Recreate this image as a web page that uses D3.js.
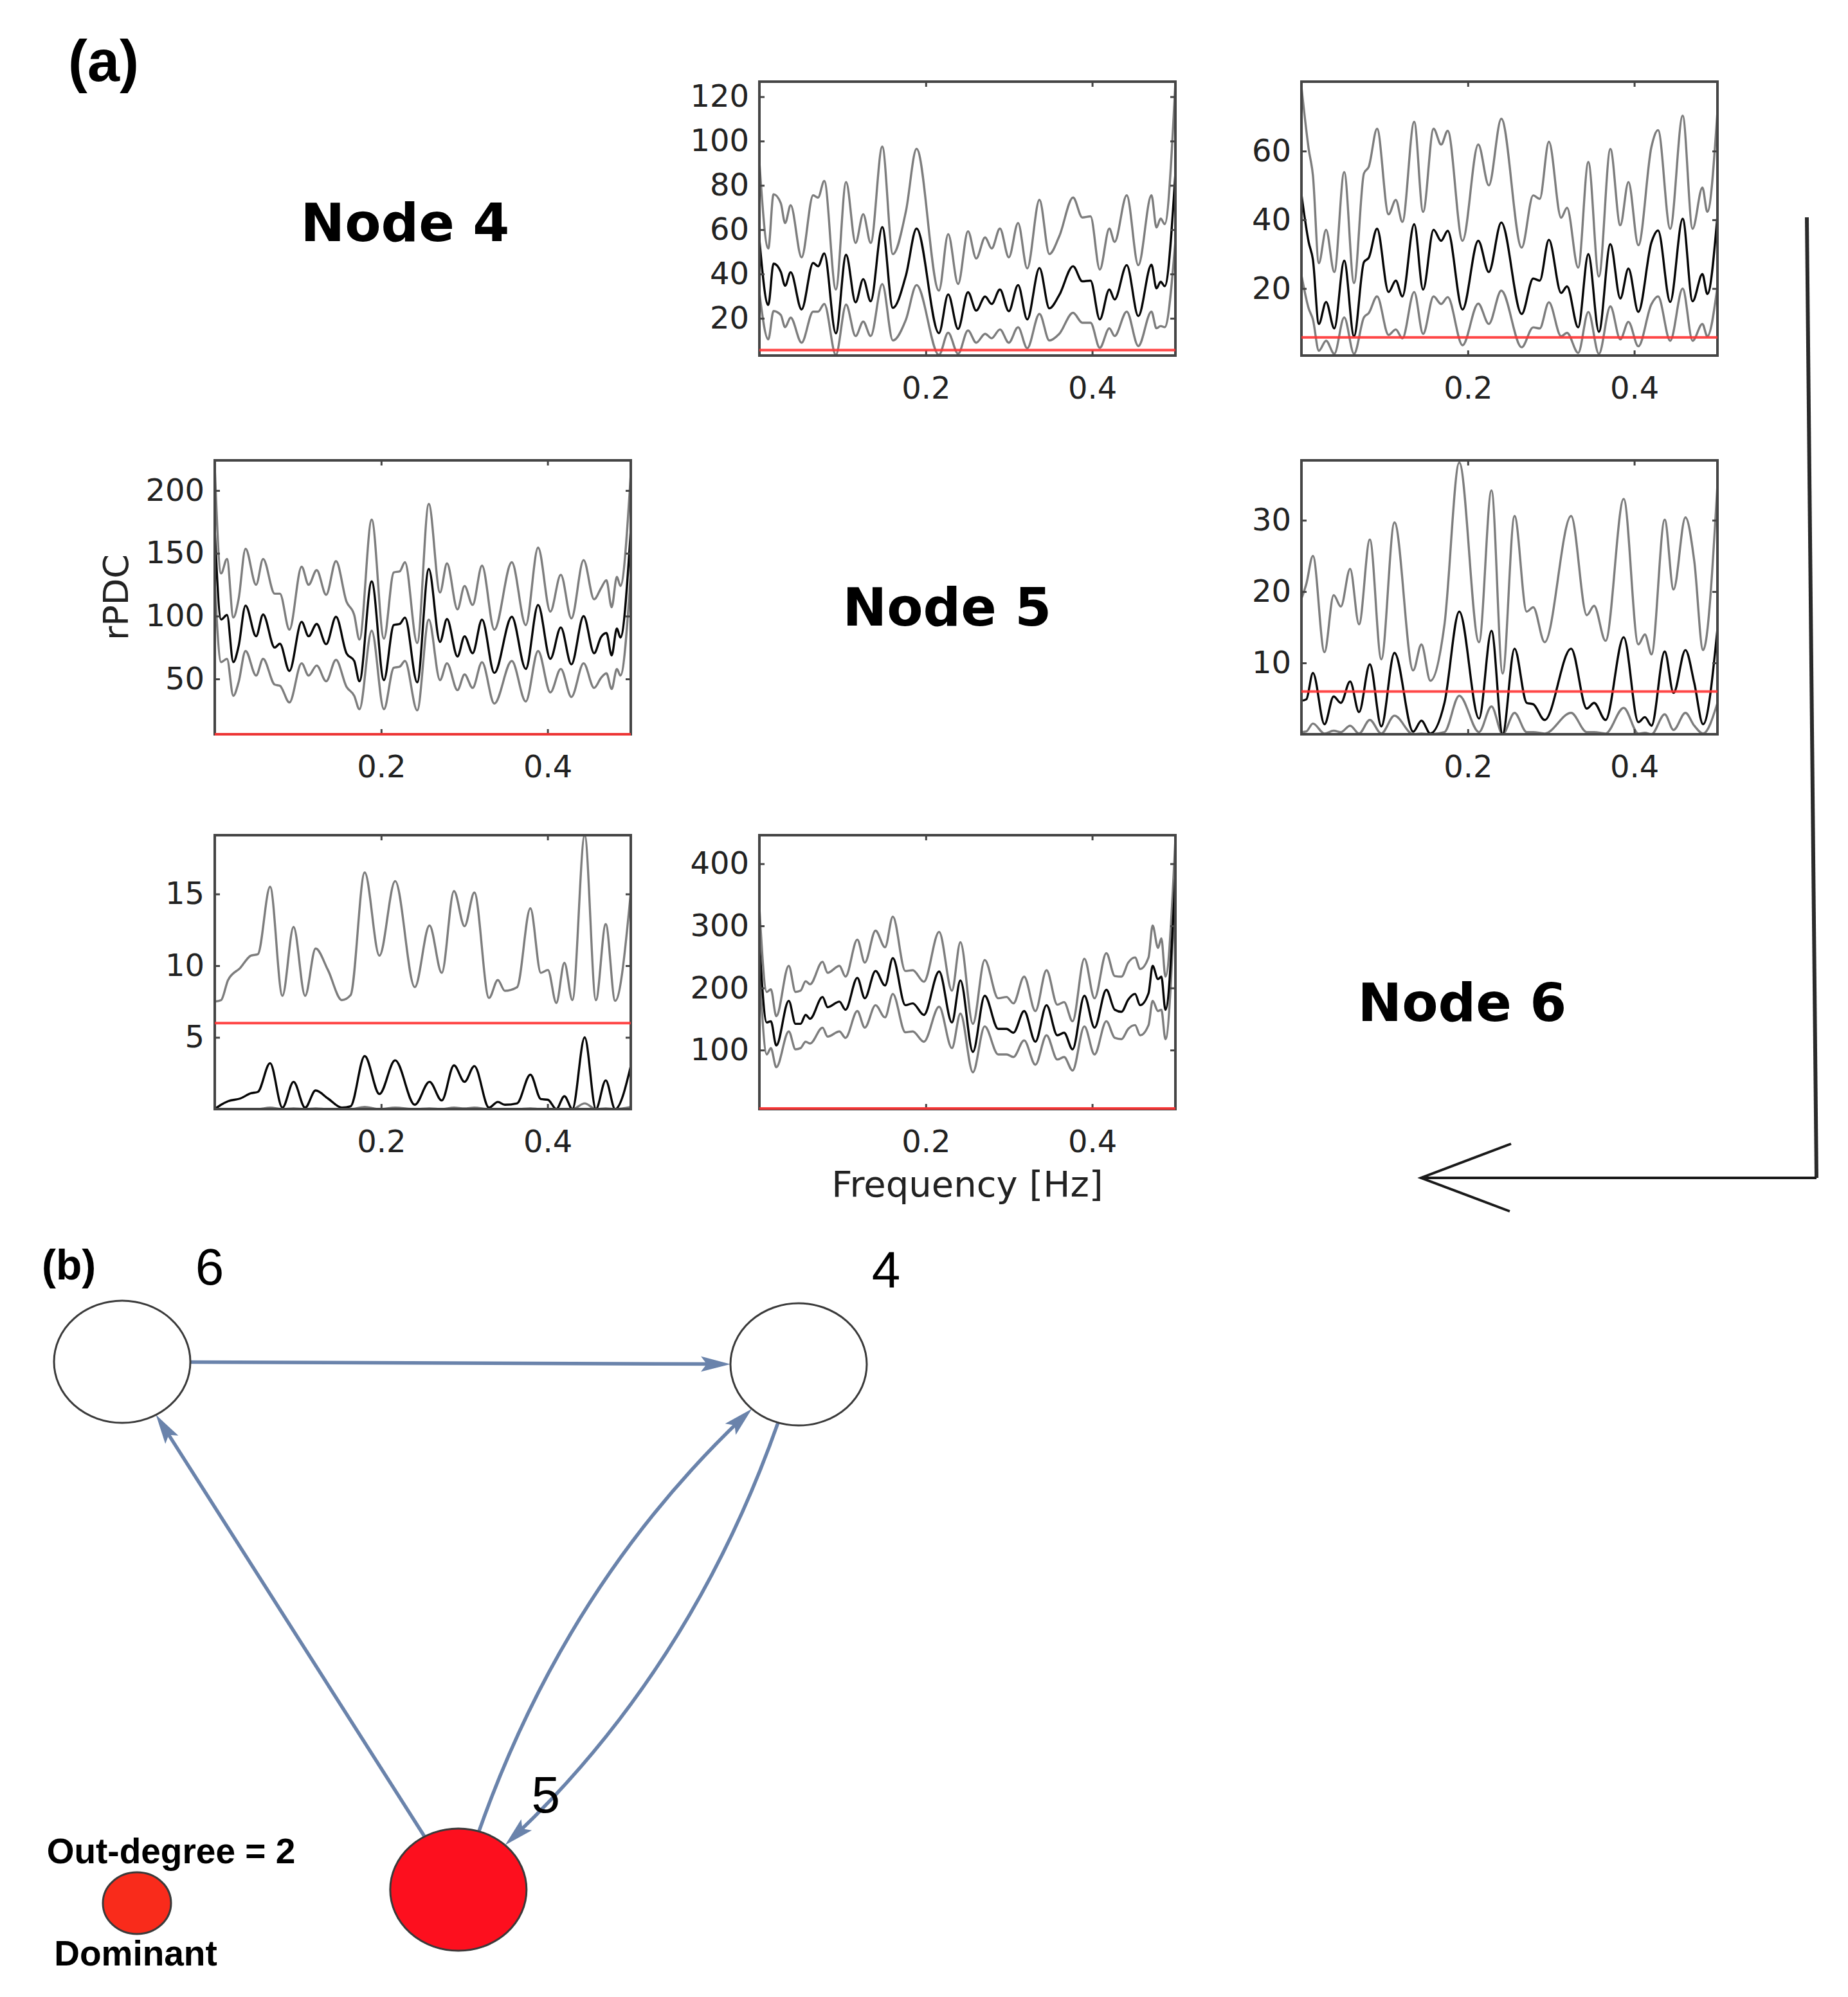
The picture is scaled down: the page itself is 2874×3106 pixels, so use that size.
<!doctype html>
<html lang="en">
<head>
    <meta charset="UTF-8">
    <title>rPDC between nodes 4, 5 and 6</title>
    <style>
        html, body { margin: 0; padding: 0; background: #fff; }
        svg { display: block; }
    </style>
</head>
<body>
<div class="container"></div>

<script src="https://d3js.org/d3.v7.min.js"></script>

<script>
  const SVG_WIDTH = 2874;
  const SVG_HEIGHT = 3106;

  // ---------- data ----------
  const freqTicks = [0.2, 0.4];

  // row 1, col 2
  const p12Freq = [0, 0.0107, 0.0170, 0.0257, 0.0309, 0.0376, 0.0507, 0.0646, 0.0705, 0.0780,
    0.0919, 0.1042, 0.1156, 0.1248, 0.1338, 0.1477, 0.1604, 0.1762, 0.1889, 0.2158,
    0.2269, 0.2388, 0.2507, 0.2606, 0.2713, 0.2792, 0.2891, 0.2998, 0.3109, 0.3219,
    0.3366, 0.3485, 0.3604, 0.3770, 0.3881, 0.3980, 0.4091, 0.4206, 0.4269, 0.4415,
    0.4554, 0.4712, 0.4772, 0.4823, 0.4871, 0.5];
  const p12Mean = [55.5, 26, 44.7, 41, 34.7, 40.8, 24, 45, 43.5, 49.3,
    13.2, 48.7, 27.2, 37.7, 27.7, 61.2, 24.7, 39.5, 60.5, 13.3,
    30.8, 15.2, 31.8, 23.5, 29.8, 26.5, 33, 23.2, 35, 19.5,
    42.7, 24.5, 30.5, 43.5, 36.7, 37, 19.5, 33, 28.5, 44,
    21, 44.2, 33.5, 36.5, 34.5, 85.7];
  const p12Upper = [90.5, 51.5, 76, 72, 63, 71, 47.5, 75.5, 74.5, 82,
    33, 81.5, 54, 67, 54, 97.5, 49, 68.5, 96.5, 32.5,
    58, 35.5, 59.3, 47, 56.5, 51.5, 60.5, 47.5, 63, 42.5,
    73.5, 49, 57, 74.5, 65.5, 66, 42, 60.5, 54.5, 75.5,
    44, 75.5, 61, 65, 62.5, 126.5];
  const p12Lower = [31.5, 10.5, 23.3, 21.5, 16, 20.3, 9, 23, 23, 26.5,
    3.5, 26.2, 12, 18.5, 12, 35.5, 10, 19.5, 35, 3.5,
    13.5, 4, 14.5, 9, 13, 11, 15, 9, 16, 6.5,
    22, 10, 13, 22.5, 18, 18, 6.7, 15.5, 12, 23,
    7.5, 23, 15.5, 16.5, 16, 55];
  const p12Ticks = [20, 40, 60, 80, 100, 120];

  // row 1, col 3
  const p13Freq = [0, 0.0087, 0.0138, 0.0209, 0.0296, 0.0395, 0.0514, 0.0632, 0.0751, 0.0810,
    0.0909, 0.1047, 0.1134, 0.1213, 0.1355, 0.1462, 0.1588, 0.1679, 0.1758, 0.1936,
    0.2125, 0.2252, 0.2402, 0.2647, 0.2785, 0.2864, 0.2974, 0.3121, 0.3192, 0.3326,
    0.3448, 0.3575, 0.3713, 0.3832, 0.3930, 0.4049, 0.4207, 0.4286, 0.4432, 0.4582,
    0.4701, 0.4819, 0.4878, 0.5];
  const p13Mean = [47.4, 33.5, 28.4, 9.7, 16.1, 8.4, 28.1, 6.1, 27.7, 29,
    37.4, 19, 22.3, 17.7, 38.7, 19.7, 37.1, 33.9, 36.8, 13.9,
    33.9, 24.8, 39.2, 12.6, 22.9, 22.3, 34.2, 18.7, 20.6, 8.7,
    30, 7.4, 32.9, 17.1, 25.8, 13.2, 33.5, 36.9, 16.1, 40.3,
    16.3, 24.2, 18.4, 41.3];
  const p13Upper = [78.7, 60.6, 52.9, 27.4, 37.1, 24.8, 53.9, 21.6, 53.5, 55.5,
    66.5, 41.6, 45.8, 39.4, 68.5, 42.3, 66.5, 61.9, 65.9, 33.9,
    61.9, 50, 69.4, 31.9, 47.1, 46.1, 62.7, 40.6, 43.5, 26.1,
    56.8, 23.5, 60.6, 38.4, 51, 32.6, 61.3, 66.1, 37.4, 70.3,
    37.4, 49.4, 42.3, 71.6];
  const p13Lower = [23.9, 14.2, 11, 1.9, 4.8, 1, 11.6, 1, 11.6, 12.9,
    17.7, 6.5, 8.1, 5.5, 19, 6.8, 17.7, 15.5, 17.5, 3.5,
    15.6, 9.7, 19.4, 2.9, 8.7, 8.4, 16, 6.1, 7.1, 1.3,
    13.2, 1, 14.8, 5.2, 10.3, 3.2, 15.5, 17.7, 4.8, 20,
    4.8, 9.7, 6.1, 20.6];
  const p13Ticks = [20, 40, 60];

  // row 2, col 1
  const p21Freq = [0, 0.0076, 0.0147, 0.0223, 0.0286, 0.0370, 0.0497, 0.0581, 0.0720, 0.0783,
    0.0897, 0.1044, 0.1128, 0.1225, 0.1339, 0.1457, 0.1583, 0.1676, 0.1739, 0.1886,
    0.2033, 0.2151, 0.2223, 0.2286, 0.2433, 0.2572, 0.2707, 0.2791, 0.2917, 0.3002,
    0.3099, 0.3212, 0.3360, 0.3570, 0.3738, 0.3886, 0.4033, 0.4159, 0.4286, 0.4433,
    0.4559, 0.4643, 0.4707, 0.4770, 0.4833, 0.4875, 0.5];
  const p21Mean = [169, 97.3, 100.9, 63.4, 75.9, 108.4, 84, 101.3, 75, 78,
    56.3, 95.5, 84, 93.8, 77.7, 99.5, 70.5, 64.3, 48.2, 127.7,
    49.1, 92.9, 93.8, 98.8, 47.3, 137.5, 79.5, 97.7, 67.9, 84,
    70.5, 97.3, 54.8, 99.5, 58, 108.9, 66, 91, 61.6, 100,
    70.5, 83.4, 86.6, 68.8, 90.2, 83, 168.8];
  const p21Upper = [218.8, 134, 145.5, 99, 113.4, 153.6, 125, 145.5, 117.9, 117.9,
    89.3, 139.3, 125, 136.6, 117, 143.8, 111.6, 100.9, 81.3, 176.8,
    82.1, 134.8, 135.7, 142.9, 78.6, 189.3, 118.8, 142, 105.4, 124,
    108.9, 140.2, 89.3, 142.9, 92.9, 154.5, 103.6, 133, 98.2, 144.6,
    113.4, 122.3, 128.6, 107.1, 131.3, 124.1, 213.4];
  const p21Lower = [126, 63.4, 66, 36.6, 47.3, 72.3, 52.7, 66, 45.5, 44.6,
    31.3, 62.5, 52.7, 60.7, 48.2, 65.2, 43.8, 36.6, 25.9, 88.4,
    25.9, 58.9, 59.8, 64.3, 25, 97.3, 49.1, 62.5, 41.1, 53.6,
    42.9, 63.4, 30.4, 64.3, 32.1, 72.3, 39.3, 58, 35.7, 62.5,
    42.9, 50.9, 54.5, 42, 58, 52.7, 133];
  const p21Ticks = [50, 100, 150, 200];

  // row 2, col 3
  const p23Freq = [0, 0.0059, 0.0138, 0.0277, 0.0387, 0.0474, 0.0585, 0.0692, 0.0822, 0.0960,
    0.1118, 0.1343, 0.1442, 0.1549, 0.1719, 0.1897, 0.2134, 0.2284, 0.2418, 0.2561,
    0.2707, 0.2786, 0.2923, 0.3241, 0.3430, 0.3517, 0.3655, 0.3873, 0.4049, 0.4128,
    0.4207, 0.4366, 0.4472, 0.4615, 0.4721, 0.4827, 0.5];
  const p23Mean = [4.7, 4.9, 8.6, 1.4, 5.3, 4.4, 7.4, 3.1, 9.8, 1.1,
    11.4, 0.35, 1.9, 0.1, 4.4, 17.2, 2.2, 14.5, 0, 12,
    4.4, 4.2, 2, 12, 3.6, 4.4, 2, 13.6, 1.7, 2.4,
    1.2, 11.6, 5.8, 11.8, 7.2, 1.4, 14.8];
  const p23Upper = [19, 21.1, 25, 11.5, 19.5, 17.9, 23.2, 15.4, 27.3, 10.5,
    29.7, 8.95, 12.6, 7.5, 15.4, 38.1, 12.9, 34.2, 8.5, 30.6,
    17.2, 17.8, 12.9, 30.6, 16.7, 18, 13.1, 33, 12.6, 14,
    11.2, 30.1, 20.3, 30.4, 24.3, 11.8, 35];
  const p23Lower = [0.3, 0.4, 1.5, 0.1, 0.5, 0.3, 1.2, 0.1, 2, 0.1,
    2.6, 0, 0.1, 0, 0.3, 5.4, 0.3, 3.9, 0, 3,
    0.3, 0.3, 0.1, 3, 0.3, 0.3, 0.1, 3.7, 0.1, 0.2,
    0, 2.8, 0.6, 3, 1.2, 0.1, 4.4];
  const p23Ticks = [10, 20, 30];

  // row 3, col 1
  const p31Freq = [0, 0.0076, 0.0160, 0.0307, 0.0434, 0.0518, 0.0665, 0.0813, 0.0947, 0.1086,
    0.1212, 0.1360, 0.1528, 0.1633, 0.1802, 0.1979, 0.2168, 0.2404, 0.2581, 0.2728,
    0.2875, 0.3002, 0.3120, 0.3296, 0.3402, 0.3486, 0.3633, 0.3793, 0.3919, 0.4004,
    0.4105, 0.4202, 0.4298, 0.4446, 0.4581, 0.4699, 0.4812, 0.5];
  const p31Mean = [0, 0.3, 0.55, 0.74, 1.1, 1.2, 3.2, 0.1, 1.9, 0.1,
    1.3, 0.74, 0.1, 0.2, 3.7, 1.05, 3.4, 0.3, 1.9, 0.6,
    3.05, 1.9, 3.0, 0.1, 0.5, 0.3, 0.4, 2.4, 0.7, 0.65,
    0, 0.9, 0, 5.0, 0, 2.0, 0, 3.0];
  const p31Upper = [7.5, 7.6, 9.0, 9.85, 10.7, 10.8, 15.5, 7.9, 12.7, 7.9,
    11.2, 9.7, 7.6, 7.95, 16.5, 10.7, 15.9, 8.5, 12.8, 9.5,
    15.2, 12.75, 15.1, 7.75, 9.0, 8.25, 8.5, 14, 9.5, 9.7,
    7.4, 10.2, 7.6, 19.1, 7.6, 12.9, 7.55, 15.1];
  const p31Lower = [0, 0, 0, 0, 0, 0, 0.1, 0, 0.05, 0,
    0.05, 0, 0, 0, 0.15, 0, 0.1, 0, 0.05, 0,
    0.1, 0.05, 0.1, 0, 0, 0, 0, 0.05, 0, 0,
    0, 0, 0, 0.4, 0, 0.05, 0, 0.15];
  const p31Ticks = [5, 10, 15];

  // row 3, col 2
  const p32Freq = [0, 0.0089, 0.0138, 0.0203, 0.0353, 0.0434, 0.0495, 0.0556, 0.0609, 0.0759,
    0.0820, 0.0962, 0.1035, 0.1177, 0.1267, 0.1396, 0.1510, 0.1604, 0.1754, 0.1843,
    0.1977, 0.2160, 0.2314, 0.2416, 0.2566, 0.2708, 0.2870, 0.2971, 0.3053, 0.3182,
    0.3317, 0.3451, 0.3581, 0.3662, 0.3764, 0.3906, 0.4028, 0.4170, 0.4271, 0.4352,
    0.4433, 0.4515, 0.4576, 0.4677, 0.4726, 0.4791, 0.4831, 0.4880, 0.5];
  const p32Mean = [271.8, 144.4, 146.4, 107.4, 179.3, 142.3, 142.3, 156.7, 150.5, 185.5,
    169, 178, 164.9, 216.3, 183.4, 227.4, 204, 248, 172.3, 175.2,
    156.7, 226.6, 144.4, 212.2, 97.1, 187.5, 134.1, 134.1, 128, 162.8,
    113.5, 172.3, 123.8, 128, 101.2, 187.5, 136.1, 197, 164.9, 161.6,
    181.3, 190.4, 172.3, 191.6, 235.6, 214.2, 218.3, 164.9, 382.7];
  const p32Upper = [329.3, 193.7, 197.8, 154.6, 235.6, 193.7, 195.7, 210.9, 206, 242.2,
    224.5, 235.6, 218.3, 277.9, 240.9, 292.3, 265.6, 314.9, 227.4, 228.6,
    210.1, 290.3, 195.7, 273.8, 142.3, 245, 183.4, 185.5, 175.2, 218.3,
    162.8, 228.6, 173.1, 177.2, 146.4, 247.1, 183.4, 256.1, 219.2, 218.3,
    240.9, 249.2, 230.7, 249.2, 300.5, 264.4, 280, 218.3, 440];
  const p32Lower = [230, 93, 103.2, 72.4, 130, 101.2, 103.2, 113.5, 110.6, 136.1,
    121.7, 130, 119.7, 162.8, 136.1, 172.3, 152.6, 190.4, 128.7, 130,
    113.5, 169.8, 103.2, 158.7, 64.2, 138.2, 93, 93, 88.9, 115.6,
    76.5, 123.8, 84.8, 88.9, 67.1, 138.2, 93, 146.4, 119.7, 117.6,
    134.1, 140.2, 123.8, 140.2, 179.3, 162.8, 164.9, 117.6, 366.3];
  const p32Ticks = [100, 200, 300, 400];

  // network (b)
  const nodeIds = ['6', '4', '5'];
  const nodeLayoutX = [0, 1, 0.497];
  const nodeLayoutY = [0, 0.005, 1];
  const nodeDominant = [false, false, true];
  const edgeFrom = ['6', '5', '5', '4'];
  const edgeTo = ['4', '6', '4', '5'];
  const edgeBend = [0, 0, 0.12, 0.12];

  // ---------- layout ----------
  const COL_X = [334, 1181, 2024];
  const ROW_Y = [127, 716, 1299];
  const PW = 647;
  const PH = 426;
  const TICK = 8;
  const AXIS_COLOUR = '#454545';
  const TEXT_COLOUR = '#222';
  const MATLAB_FONT = "'DejaVu Sans', sans-serif";
  const GRAPH_FONT = "'Liberation Sans', Arial, sans-serif";

  const panels = [
    {id: 'p12', row: 0, col: 1, freq: p12Freq, mean: p12Mean, upper: p12Upper, lower: p12Lower, ticks: p12Ticks, yDomain: [3.2, 126.8], threshold: 5.7},
    {id: 'p13', row: 0, col: 2, freq: p13Freq, mean: p13Mean, upper: p13Upper, lower: p13Lower, ticks: p13Ticks, yDomain: [0.5, 80.2], threshold: 5.8},
    {id: 'p21', row: 1, col: 0, freq: p21Freq, mean: p21Mean, upper: p21Upper, lower: p21Lower, ticks: p21Ticks, yDomain: [6, 224], threshold: 6},
    {id: 'p23', row: 1, col: 2, freq: p23Freq, mean: p23Mean, upper: p23Upper, lower: p23Lower, ticks: p23Ticks, yDomain: [0, 38.4], threshold: 6},
    {id: 'p31', row: 2, col: 0, freq: p31Freq, mean: p31Mean, upper: p31Upper, lower: p31Lower, ticks: p31Ticks, yDomain: [0, 19.1], threshold: 6},
    {id: 'p32', row: 2, col: 1, freq: p32Freq, mean: p32Mean, upper: p32Upper, lower: p32Lower, ticks: p32Ticks, yDomain: [5, 446], threshold: 6}
  ];

  const svg = d3.select('.container')
    .append('svg')
    .attr('width', SVG_WIDTH)
    .attr('height', SVG_HEIGHT)
    .attr('viewBox', `0 0 ${SVG_WIDTH} ${SVG_HEIGHT}`);

  svg.append('rect').attr('width', SVG_WIDTH).attr('height', SVG_HEIGHT).attr('fill', '#fff');
  const defs = svg.append('defs');

  function styleAxis(sel) {
    sel.select('.domain').remove();
    sel.attr('font-family', MATLAB_FONT).attr('font-size', 48);
    sel.selectAll('.tick line').attr('stroke', AXIS_COLOUR).attr('stroke-width', 3);
    sel.selectAll('.tick text').attr('fill', TEXT_COLOUR);
  }

  function drawPanel(p) {
    const g = svg.append('g')
      .attr('transform', `translate(${COL_X[p.col]}, ${ROW_Y[p.row]})`);

    const x = d3.scaleLinear().domain([0, 0.5]).range([0, PW]);
    const y = d3.scaleLinear().domain(p.yDomain).range([PH, 0]);

    defs.append('clipPath').attr('id', `clip-${p.id}`)
      .append('rect').attr('width', PW).attr('height', PH);

    const plot = g.append('g').attr('clip-path', `url(#clip-${p.id})`);
    const line = d3.line()
      .defined((d, i) => p.freq[i] !== undefined)
      .x((d, i) => x(p.freq[i]))
      .y(d => y(d))
      .curve(d3.curveMonotoneX);

    [[p.upper, '#7d7d7d'], [p.lower, '#7d7d7d'], [p.mean, '#050505']].forEach(([vals, colour]) => {
      plot.append('path')
        .datum(vals)
        .attr('fill', 'none')
        .attr('stroke', colour)
        .attr('stroke-width', 3.4)
        .attr('stroke-linejoin', 'round')
        .attr('d', line);
    });

    g.append('g')
      .call(d3.axisLeft(y).tickValues(p.ticks).tickSize(-TICK).tickPadding(16))
      .call(styleAxis);
    g.append('g')
      .attr('transform', `translate(${PW}, 0)`)
      .call(d3.axisRight(y).tickValues(p.ticks).tickSize(-TICK).tickFormat(''))
      .call(styleAxis);
    g.append('g')
      .attr('transform', `translate(0, ${PH})`)
      .call(d3.axisBottom(x).tickValues(freqTicks).tickSize(-TICK).tickPadding(33).tickFormat(d3.format('.1f')))
      .call(styleAxis);
    g.append('g')
      .call(d3.axisTop(x).tickValues(freqTicks).tickSize(-TICK).tickFormat(''))
      .call(styleAxis);

    g.append('rect')
      .attr('width', PW)
      .attr('height', PH)
      .attr('fill', 'none')
      .attr('stroke', AXIS_COLOUR)
      .attr('stroke-width', 4);

    // significance threshold
    g.append('line')
      .attr('x1', 0).attr('x2', PW)
      .attr('y1', y(p.threshold)).attr('y2', y(p.threshold))
      .attr('stroke', '#ff3333')
      .attr('stroke-opacity', 0.9)
      .attr('stroke-width', 4);
  }

  panels.forEach(drawPanel);

  // panel (a) texts
  svg.append('text')
    .attr('x', 106).attr('y', 126)
    .attr('font-family', GRAPH_FONT).attr('font-weight', 'bold').attr('font-size', 90)
    .text('(a)');

  const nodeTitles = [
    {label: 'Node 4', x: 630, y: 375},
    {label: 'Node 5', x: 1473, y: 973},
    {label: 'Node 6', x: 2274, y: 1588}
  ];
  svg.selectAll('.node-title')
    .data(nodeTitles)
    .enter().append('text')
    .attr('class', 'node-title')
    .attr('x', d => d.x).attr('y', d => d.y)
    .attr('text-anchor', 'middle')
    .attr('font-family', MATLAB_FONT).attr('font-weight', 'bold').attr('font-size', 82)
    .attr('fill', '#000')
    .text(d => d.label);

  svg.append('text')
    .attr('transform', `translate(${COL_X[0] - 135}, ${ROW_Y[1] + PH / 2}) rotate(-90)`)
    .attr('text-anchor', 'middle')
    .attr('font-family', MATLAB_FONT).attr('font-size', 54)
    .attr('fill', TEXT_COLOUR)
    .text('rPDC');

  svg.append('text')
    .attr('x', COL_X[1] + PW / 2).attr('y', ROW_Y[2] + PH + 136)
    .attr('text-anchor', 'middle')
    .attr('font-family', MATLAB_FONT).attr('font-size', 56)
    .attr('fill', TEXT_COLOUR)
    .text('Frequency [Hz]');

  // hand-drawn return arrow on the right
  const arrowTop = ROW_Y[0] + 211;
  const arrowY = ROW_Y[2] + PH + 107;
  const arrowX = COL_X[2] + PW + 148;
  const arrowTipX = 2210;
  svg.append('path')
    .attr('d', `M${arrowX - 9},${arrowTop} L${arrowX + 6},${arrowY}`)
    .attr('stroke', '#2a2a2a').attr('stroke-width', 6).attr('fill', 'none');
  svg.append('path')
    .attr('d', `M${arrowX + 6},${arrowY} L${arrowTipX},${arrowY} M${arrowTipX + 140},${arrowY - 53} L${arrowTipX},${arrowY} L${arrowTipX + 138},${arrowY + 52}`)
    .attr('stroke', '#1a1a1a').attr('stroke-width', 4).attr('fill', 'none');

  // ---------- panel (b): network ----------
  const NODE_RX = 106;
  const NODE_RY = 95;
  const EDGE_COLOUR = '#6a83ab';
  const netX = d3.scaleLinear().domain([0, 1]).range([190, 1242]);
  const netY = d3.scaleLinear().domain([0, 1]).range([2118, 2939]);

  const nodes = nodeIds.map((id, i) => ({
    id, cx: netX(nodeLayoutX[i]), cy: netY(nodeLayoutY[i]), dominant: nodeDominant[i]
  }));
  const nodeById = new Map(nodes.map(n => [n.id, n]));

  defs.append('marker')
    .attr('id', 'edge-arrow')
    .attr('markerUnits', 'userSpaceOnUse')
    .attr('viewBox', '-30 -14 52 28')
    .attr('refX', 0).attr('refY', 0)
    .attr('markerWidth', 52).attr('markerHeight', 28)
    .attr('orient', 'auto')
    .append('path')
    .attr('d', 'M20,0 L-26,-12 L-17,0 L-26,12 Z')
    .attr('fill', EDGE_COLOUR);

  function boundary(n, ux, uy) {
    const s = 1 / Math.sqrt((ux / NODE_RX) ** 2 + (uy / NODE_RY) ** 2);
    return [n.cx + ux * s, n.cy + uy * s];
  }
  function unit(dx, dy) {
    const l = Math.hypot(dx, dy);
    return [dx / l, dy / l];
  }

  const TIP_BACK = 20;
  const edges = edgeFrom.map((f, i) => ({source: nodeById.get(f), target: nodeById.get(edgeTo[i]), bend: edgeBend[i]}));

  svg.append('g').selectAll('path')
    .data(edges)
    .enter().append('path')
    .attr('fill', 'none')
    .attr('stroke', EDGE_COLOUR)
    .attr('stroke-width', 5.5)
    .attr('marker-end', 'url(#edge-arrow)')
    .attr('d', e => {
      const s = e.source, t = e.target;
      const len = Math.hypot(t.cx - s.cx, t.cy - s.cy);
      const nx = (t.cy - s.cy) / len, ny = -(t.cx - s.cx) / len;
      const path = d3.path();
      if (!e.bend) {
        const [ux, uy] = unit(t.cx - s.cx, t.cy - s.cy);
        const a = boundary(s, ux, uy);
        const b = boundary(t, -ux, -uy);
        path.moveTo(a[0], a[1]);
        path.lineTo(b[0] - ux * TIP_BACK, b[1] - uy * TIP_BACK);
      } else {
        const c = [(s.cx + t.cx) / 2 + nx * e.bend * len, (s.cy + t.cy) / 2 + ny * e.bend * len];
        const [sx, sy] = unit(c[0] - s.cx, c[1] - s.cy);
        const [ex, ey] = unit(t.cx - c[0], t.cy - c[1]);
        const a = boundary(s, sx, sy);
        const b = boundary(t, -ex, -ey);
        path.moveTo(a[0], a[1]);
        path.quadraticCurveTo(c[0], c[1], b[0] - ex * TIP_BACK, b[1] - ey * TIP_BACK);
      }
      return path.toString();
    });

  const nodeG = svg.append('g').selectAll('g')
    .data(nodes)
    .enter().append('g');
  nodeG.append('ellipse')
    .attr('cx', d => d.cx).attr('cy', d => d.cy)
    .attr('rx', NODE_RX).attr('ry', NODE_RY)
    .attr('fill', d => d.dominant ? '#fd0f1e' : '#fff')
    .attr('stroke', '#3a3a3a')
    .attr('stroke-width', 3);
  nodeG.append('text')
    .attr('x', d => d.cx + 136).attr('y', d => d.cy - 120)
    .attr('text-anchor', 'middle')
    .attr('font-family', GRAPH_FONT).attr('font-size', 80)
    .attr('fill', '#000')
    .text(d => d.id);

  svg.append('text')
    .attr('x', 65).attr('y', 1990)
    .attr('font-family', GRAPH_FONT).attr('font-weight', 'bold').attr('font-size', 66)
    .text('(b)');

  // legend
  svg.append('text')
    .attr('x', 266).attr('y', 2898)
    .attr('text-anchor', 'middle')
    .attr('font-family', GRAPH_FONT).attr('font-weight', 'bold').attr('font-size', 55)
    .text('Out-degree = 2');
  svg.append('ellipse')
    .attr('cx', 213).attr('cy', 2960)
    .attr('rx', 53).attr('ry', 48)
    .attr('fill', '#f92b1b')
    .attr('stroke', '#3a3a3a')
    .attr('stroke-width', 3);
  svg.append('text')
    .attr('x', 211).attr('y', 3057)
    .attr('text-anchor', 'middle')
    .attr('font-family', GRAPH_FONT).attr('font-weight', 'bold').attr('font-size', 55)
    .text('Dominant');
</script>
